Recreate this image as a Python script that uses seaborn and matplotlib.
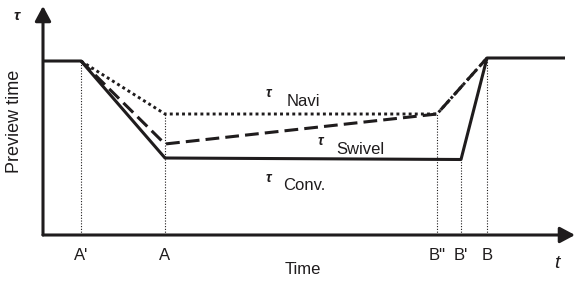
import matplotlib
matplotlib.use("Agg")
import matplotlib.pyplot as plt
import seaborn as sns
import numpy as np

sns.set_theme(style="white")
plt.rcParams['font.family'] = ['Liberation Sans', 'DejaVu Sans']

# ---- data (arbitrary time / preview-time units) ----
conv_t = [0.0, 3.8, 12.2, 41.8, 44.4, 52.2]
conv_v = [17.4, 17.4, 7.7, 7.55, 17.7, 17.7]
navi_t = [3.8, 12.2, 39.4, 44.4]
navi_v = [17.4, 12.1, 12.1, 17.7]
swivel_t = [3.8, 12.2, 39.4, 44.4]
swivel_v = [17.4, 9.1, 12.1, 17.7]

tick_pos = [3.8, 12.2, 39.4, 41.8, 44.4]
tick_labels = ["A'", "A", 'B"', "B'", "B"]
guide_top = [17.4, 12.1, 12.1, 7.55, 17.7]

col = '#1f1c1d'

fig = plt.figure(figsize=(5.76, 2.82), dpi=100)
ax = fig.add_axes([43/576, 47/282, 532/576, 229/282])
ax.set_xlim(0, 53.2)
ax.set_ylim(0, 22.9)

sns.lineplot(x=conv_t, y=conv_v, sort=False, estimator=None, ax=ax,
             color=col, lw=2.2, solid_capstyle='butt')
sns.lineplot(x=navi_t, y=navi_v, sort=False, estimator=None, ax=ax,
             color=col, lw=2.1, linestyle=(0, (1, 1.1)))
sns.lineplot(x=swivel_t, y=swivel_v, sort=False, estimator=None, ax=ax,
             color=col, lw=2.2, linestyle=(0, (4.5, 2.0)))

ax.vlines(tick_pos, 0, guide_top, colors=col, lw=0.8, linestyles=(0, (1, 1.5)))

for s in ax.spines.values():
    s.set_visible(False)

# axis arrows
ax.annotate('', xy=(1, 0), xytext=(0, 0), xycoords='axes fraction',
            arrowprops=dict(arrowstyle='-|>,head_length=0.45,head_width=0.24',
                            mutation_scale=20, lw=2.2, color=col,
                            shrinkA=0, shrinkB=0), annotation_clip=False)
ax.annotate('', xy=(0, 1), xytext=(0, 0), xycoords='axes fraction',
            arrowprops=dict(arrowstyle='-|>,head_length=0.45,head_width=0.24',
                            mutation_scale=20, lw=2.2, color=col,
                            shrinkA=0, shrinkB=0), annotation_clip=False)

tfs = 12
ax.set_xticks(tick_pos)
ax.set_xticklabels(tick_labels, fontsize=tfs, color=col)
ax.tick_params(axis='x', length=0, pad=9)
ax.set_yticks([])
ax.set_xlabel('')
ax.set_ylabel('')

ax.text(26.0, -3.5, 'Time', ha='center', va='center', fontsize=tfs, color=col, clip_on=False)
ax.text(-2.8, 11.4, 'Preview time', ha='center', va='center', rotation=90,
        fontsize=13, color=col, clip_on=False)
ax.text(51.4, -2.8, 't', ha='center', va='center', fontsize=14, style='italic',
        color=col, clip_on=False)
ax.text(-2.6, 21.9, 'τ', ha='center', va='center', fontsize=11, style='italic',
        weight='bold', color=col, clip_on=False)

# series labels
tau_kw = dict(ha='center', va='center', fontsize=10, style='italic', weight='bold', color=col)
ax.text(22.5, 14.2, 'τ', **tau_kw)
ax.text(24.4, 13.3, 'Navi', ha='left', va='center', fontsize=tfs, color=col)
ax.text(27.7, 9.4, 'τ', **tau_kw)
ax.text(29.3, 8.6, 'Swivel', ha='left', va='center', fontsize=tfs, color=col)
ax.text(22.5, 5.7, 'τ', **tau_kw)
ax.text(24.0, 5.0, 'Conv.', ha='left', va='center', fontsize=tfs, color=col)

fig.savefig('out.png', dpi=100)
